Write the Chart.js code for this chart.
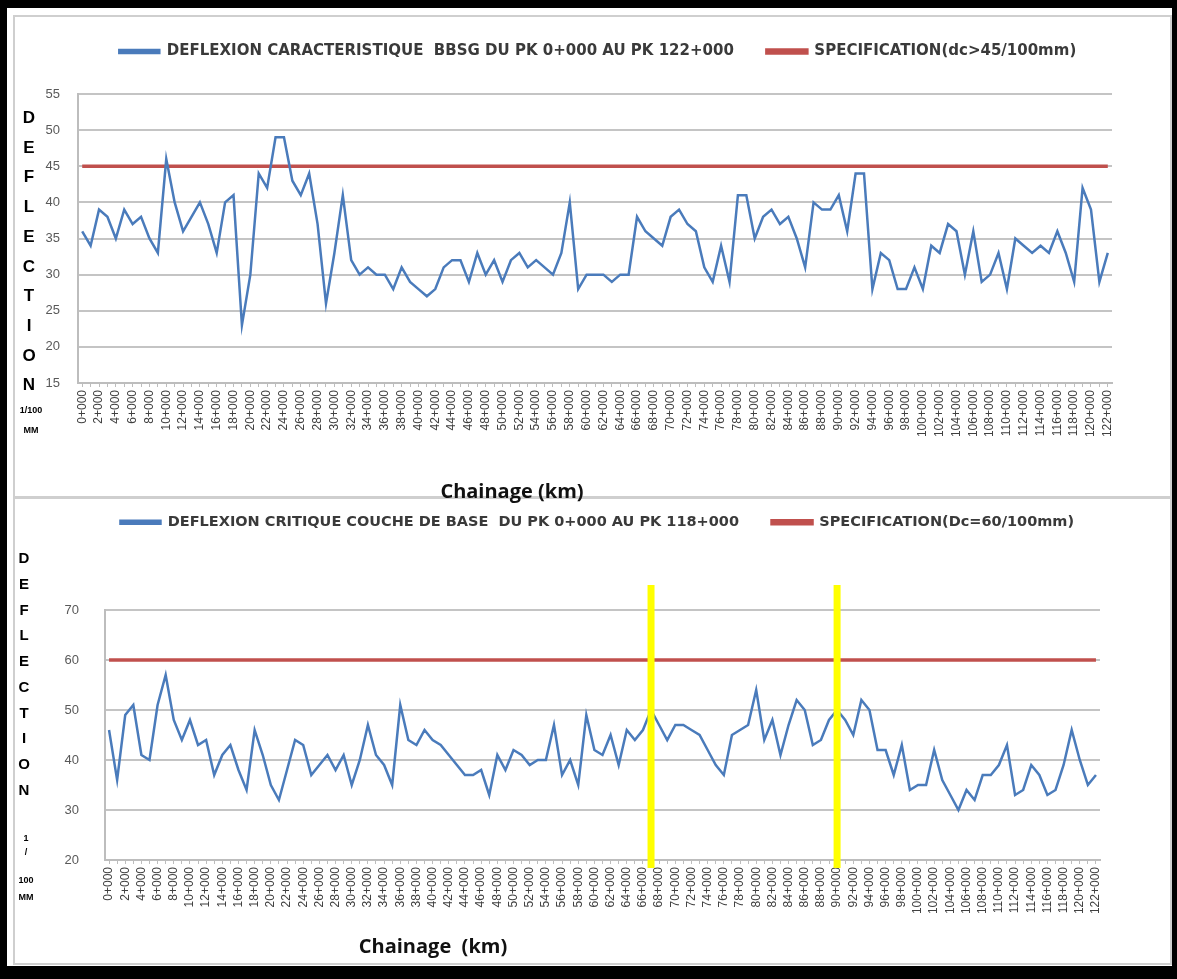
<!DOCTYPE html>
<html lang="fr">
<head>
<meta charset="UTF-8">
<title>Deflexion</title>
<script src="https://cdn.jsdelivr.net/npm/chart.js"></script>
<style>
  body { margin: 0; background: #fff; font-family: "Liberation Sans", Arial, sans-serif; }
  #frame {
    position: absolute; left: 0; top: 0; width: 1177px; height: 979px;
    box-sizing: border-box; border: solid #000; border-width: 8px 5px 13px 7px;
  }
  .panel { position: absolute; border: 2px solid #cfcfcf; box-sizing: border-box; }
  canvas { position: absolute; }
  .lbl { position: absolute; transform: translate(-50%, -50%); font-weight: bold; color: #000; white-space: nowrap; }
  .axis-title { position: absolute; transform: translate(-50%, -50%); font-weight: bold; color: #111;
    font-family: "Open Sans", sans-serif; font-size: 20px; white-space: pre; }
</style>
</head>
<body>
<div id="frame"></div>
<div class="panel" style="left:13px;top:15px;width:1159px;height:483px"></div>
<div class="panel" style="left:13px;top:497px;width:1159px;height:468px"></div>
<canvas id="chartTop" width="1150" height="476" style="left:17px;top:20px"></canvas>
<canvas id="chartBottom" width="1150" height="463" style="left:17px;top:500px"></canvas>

<div id="yTitleTop"></div>
<div id="yTitleBottom"></div>
<div class="axis-title" style="left:512px;top:490px">Chainage (km)</div>
<div class="axis-title" style="left:433px;top:945px">Chainage  (km)</div>

<script>
// chainage, one category per km
const chainageKm = Array.from({ length: 123 }, (_, k) => k + '+000');

// top chart: deflexion caracteristique BBSG (1/100 mm)
const deflexionBBSG = [
  36, 34, 39, 38, 35, 39, 37, 38, 35, 33,
  46, 40, 36, 38, 40, 37, 33, 40, 41, 23,
  30, 44, 42, 49, 49, 43, 41, 44, 37, 26,
  33, 41, 32, 30, 31, 30, 30, 28, 31, 29,
  28, 27, 28, 31, 32, 32, 29, 33, 30, 32,
  29, 32, 33, 31, 32, 31, 30, 33, 40, 28,
  30, 30, 30, 29, 30, 30, 38, 36, 35, 34,
  38, 39, 37, 36, 31, 29, 34, 29, 41, 41,
  35, 38, 39, 37, 38, 35, 31, 40, 39, 39,
  41, 36, 44, 44, 28, 33, 32, 28, 28, 31,
  28, 34, 33, 37, 36, 30, 36, 29, 30, 33,
  28, 35, 34, 33, 34, 33, 36, 33, 29, 42,
  39, 29, 33
];
const specBBSG = 45;

// bottom chart: deflexion critique couche de base (1/100 mm)
const deflexionBase = [
  46, 36, 49, 51, 41, 40, 51, 57, 48, 44,
  48, 43, 44, 37, 41, 43, 38, 34, 46, 41,
  35, 32, 38, 44, 43, 37, 39, 41, 38, 41,
  35, 40, 47, 41, 39, 35, 51, 44, 43, 46,
  44, 43, 41, 39, 37, 37, 38, 33, 41, 38,
  42, 41, 39, 40, 40, 47, 37, 40, 35, 49,
  42, 41, 45, 39, 46, 44, 46, 50, 47, 44,
  47, 47, 46, 45, 42, 39, 37, 45, 46, 47,
  54, 44, 48, 41, 47, 52, 50, 43, 44, 48,
  50, 48, 45, 52, 50, 42, 42, 37, 43, 34,
  35, 35, 42, 36, 33, 30, 34, 32, 37, 37,
  39, 43, 33, 34, 39, 37, 33, 34, 39, 46,
  40, 35, 37
];
const specBase = 60;
// yellow vertical markers (km)
const markerKm = [67, 90];

const legendTop = ['DEFLEXION CARACTERISTIQUE  BBSG DU PK 0+000 AU PK 122+000', 'SPECIFICATION(dc>45/100mm)'];
const legendBottom = ['DEFLEXION CRITIQUE COUCHE DE BASE  DU PK 0+000 AU PK 118+000', 'SPECIFICATION(Dc=60/100mm)'];
const yLetters = ['D', 'E', 'F', 'L', 'E', 'C', 'T', 'I', 'O', 'N'];

const BLUE = '#4a7bbb';
const RED = '#c0504d';
const GRID = '#c4c4c4';

// lets the legend leave a gap before the plot area, and nudges it sideways
const legendGap = {
  id: 'legendGap',
  beforeInit(chart) {
    chart.$gap = 0;
    const fit = chart.legend.fit;
    chart.legend.fit = function () {
      fit.call(this);
      this.height += chart.$gap;
    };
  },
  afterLayout(chart, args, opts) {
    chart.legend.left += opts.shift || 0;
    chart.legend.right += opts.shift || 0;
  }
};

const yellowMarkers = {
  id: 'yellowMarkers',
  afterDatasetsDraw(chart, args, opts) {
    if (!opts.km) return;
    const { ctx, chartArea, scales } = chart;
    ctx.save();
    ctx.strokeStyle = '#ffff00';
    ctx.lineWidth = 7;
    opts.km.forEach(k => {
      const px = scales.x.getPixelForValue(k);
      ctx.beginPath();
      ctx.moveTo(px, chartArea.top - 25);
      ctx.lineTo(px, chartArea.bottom + 8);
      ctx.stroke();
    });
    ctx.restore();
  }
};

function makeChart(id, legend, values, spec, yMin, yMax, yStep, tickPad, legendTopPad, legendSize, markers) {
  const padding = { left: 10, right: 50, top: legendTopPad, bottom: 10 };
  return new Chart(document.getElementById(id), {
    type: 'line',
    data: {
      labels: chainageKm,
      datasets: [
        { label: legend[0], data: values, borderColor: BLUE, backgroundColor: BLUE,
          borderWidth: 2.5, pointRadius: 0, tension: 0 },
        { label: legend[1], data: chainageKm.map(() => spec), borderColor: RED, backgroundColor: RED,
          borderWidth: 3.5, pointRadius: 0 }
      ]
    },
    options: {
      responsive: false,
      animation: false,
      layout: { padding: padding },
      plugins: {
        tooltip: { enabled: false },
        legend: {
          position: 'top',
          labels: {
            boxWidth: 40, boxHeight: 3, padding: 33, color: '#3a3a3a',
            font: { family: 'DejaVu Sans', size: legendSize, weight: 'bold' }
          }
        },
        legendGap: { shift: 28 },
        yellowMarkers: { km: markers }
      },
      scales: {
        x: {
          offset: true,
          grid: { display: true, drawOnChartArea: false, drawTicks: true, tickLength: 4, color: '#bdbdbd' },
          border: { display: true, color: '#bdbdbd', width: 2 },
          ticks: {
            autoSkip: false, minRotation: 90, maxRotation: 90, padding: 3,
            color: '#404040', font: { family: 'Liberation Sans', size: 12 },
            callback: (v, i) => (i % 2 === 0 ? chainageKm[i] : '')
          }
        },
        y: {
          min: yMin, max: yMax,
          grid: { color: GRID, lineWidth: 2, drawTicks: false },
          border: { display: true, color: '#bdbdbd', width: 2 },
          ticks: { stepSize: yStep, padding: tickPad, color: '#595959',
            font: { family: 'Liberation Sans', size: 13 } }
        }
      }
    },
    plugins: [legendGap, yellowMarkers]
  });
}

// move the plot area onto the target rectangle (canvas pixels)
function fitArea(chart, area) {
  const a = chart.chartArea;
  const p = chart.config.options.layout.padding;
  chart.$gap += area.top - a.top;
  p.left += area.left - a.left;
  p.right += a.right - area.right;
  p.bottom += a.bottom - area.bottom;
  chart.update('none');
}

// legend labels padding (33) also pushes the legend row down, so start above the canvas top
const topChart = makeChart('chartTop', legendTop, deflexionBBSG, specBBSG, 15, 55, 5, 18, -9, 15, null);
fitArea(topChart, { left: 61, right: 1095, top: 74, bottom: 363 });
fitArea(topChart, { left: 61, right: 1095, top: 74, bottom: 363 });

const bottomChart = makeChart('chartBottom', legendBottom, deflexionBase, specBase, 20, 70, 10, 26, -18, 14.5, markerKm);
fitArea(bottomChart, { left: 88, right: 1083, top: 110, bottom: 360 });
fitArea(bottomChart, { left: 88, right: 1083, top: 110, bottom: 360 });

// vertical y-axis titles
function stackLetters(el, x, ys, size, extra) {
  let html = '';
  yLetters.forEach((c, i) => {
    html += `<div class="lbl" style="left:${x}px;top:${ys[i]}px;font-size:${size}px">${c}</div>`;
  });
  extra.forEach(e => {
    html += `<div class="lbl" style="left:${x + 2}px;top:${e[1]}px;font-size:9px">${e[0]}</div>`;
  });
  el.innerHTML = html;
}
stackLetters(document.getElementById('yTitleTop'), 29,
  [118, 148, 177, 207, 237, 267, 296, 326, 356, 385], 17,
  [['1/100', 410], ['MM', 430]]);
stackLetters(document.getElementById('yTitleBottom'), 24,
  [557, 583, 609, 634, 660, 686, 712, 737, 763, 789], 15,
  [['1', 838], ['/', 852], ['100', 880], ['MM', 897]]);
</script>
</body>
</html>
